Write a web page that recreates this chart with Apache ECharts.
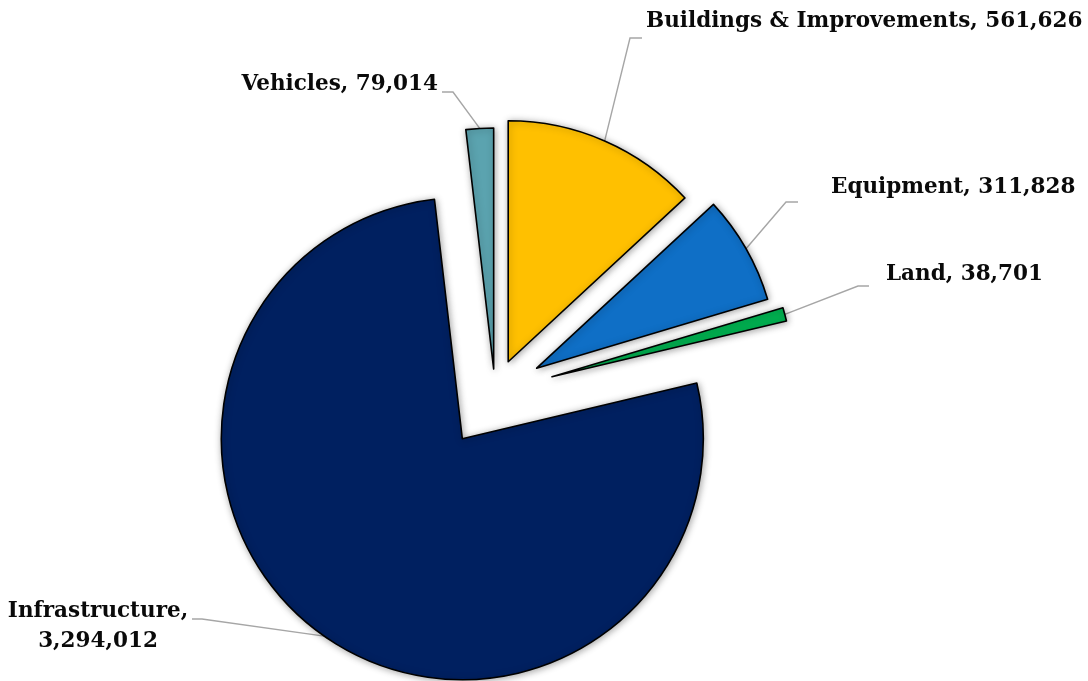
<!DOCTYPE html>
<html><head><meta charset="utf-8">
<script src="https://cdn.jsdelivr.net/npm/echarts@6/dist/echarts.min.js"></script>
<style>html,body{margin:0;padding:0;background:#fff}#c{width:1088px;height:681px}</style>
</head><body><div id="c"></div>
<script>
// ---- data ----
const categories = ['Buildings & Improvements', 'Equipment', 'Land', 'Infrastructure', 'Vehicles'];
const values = [561626, 311828, 38701, 3294012, 79014];

// ---- styles / layout ----
const colors = ['#FFC000', '#0F6FC6', '#00B050', '#002060', '#5BA3AF'];
const explodePx = [33, 48, 59, 57, 23];
const pieCenter = [495, 392];
const pieRadius = 241;
const labelBoxes = [
  { x: 646, y: 21,  align: 'left',   elbow: [630, 38],  end: [642, 38],  wrap: false },
  { x: 831, y: 187, align: 'left',   elbow: [786, 202], end: [798, 202], wrap: false },
  { x: 886, y: 274, align: 'left',   elbow: [858, 286], end: [869, 286], wrap: false },
  { x: 98,  y: 626, align: 'center', elbow: [202, 619], end: [192, 619], wrap: true },
  { x: 438, y: 84,  align: 'right',  elbow: [453, 92],  end: [442, 92],  wrap: false }
];

const total = values.reduce((a, b) => a + b, 0);
const midAngles = [];
let acc = 0;
values.forEach(v => { const a = v / total * 360; midAngles.push(acc + a / 2); acc += a; });

function centerFor(i) {
  const t = midAngles[i] * Math.PI / 180;
  return [pieCenter[0] + explodePx[i] * Math.sin(t), pieCenter[1] - explodePx[i] * Math.cos(t)];
}

const series = categories.map((name, i) => {
  const c = centerFor(i);
  return {
    type: 'pie',
    center: c,
    radius: pieRadius,
    startAngle: 90,
    clockwise: true,
    avoidLabelOverlap: false,
    animation: false,
    emphasis: { disabled: true },
    data: categories.map((n, j) => ({
      name: n,
      value: values[j],
      itemStyle: j === i ? {
        color: colors[j], borderColor: '#000', borderWidth: 1.6,
        shadowBlur: 7, shadowColor: 'rgba(0,0,0,0.35)', shadowOffsetX: 1, shadowOffsetY: 1
      } : { color: 'rgba(0,0,0,0)', borderWidth: 0, shadowBlur: 0 },
      label: { show: j === i },
      labelLine: { show: j === i }
    })),
    label: {
      position: 'outside',
      fontFamily: 'DejaVu Serif',
      fontWeight: 'bold',
      fontSize: 21.5,
      lineHeight: 30,
      color: '#0a0a0a',
      align: labelBoxes[i].align,
      formatter: p => {
        const v = p.value.toLocaleString('en-US');
        return labelBoxes[p.dataIndex].wrap ? p.name + ',\n' + v : p.name + ', ' + v;
      }
    },
    labelLine: { show: true, lineStyle: { color: '#A6A6A6', width: 1.4 } },
    labelLayout: params => {
      const b = labelBoxes[i];
      const t = midAngles[i] * Math.PI / 180;
      const anchor = [c[0] + pieRadius * Math.sin(t), c[1] - pieRadius * Math.cos(t)];
      return {
        x: b.x, y: b.y, align: b.align, verticalAlign: 'middle',
        labelLinePoints: [anchor, b.elbow, b.end]
      };
    }
  };
});

const chart = echarts.init(document.getElementById('c'), null, { renderer: 'canvas' });
chart.setOption({ backgroundColor: '#fff', animation: false, series });
</script>
</body></html>
